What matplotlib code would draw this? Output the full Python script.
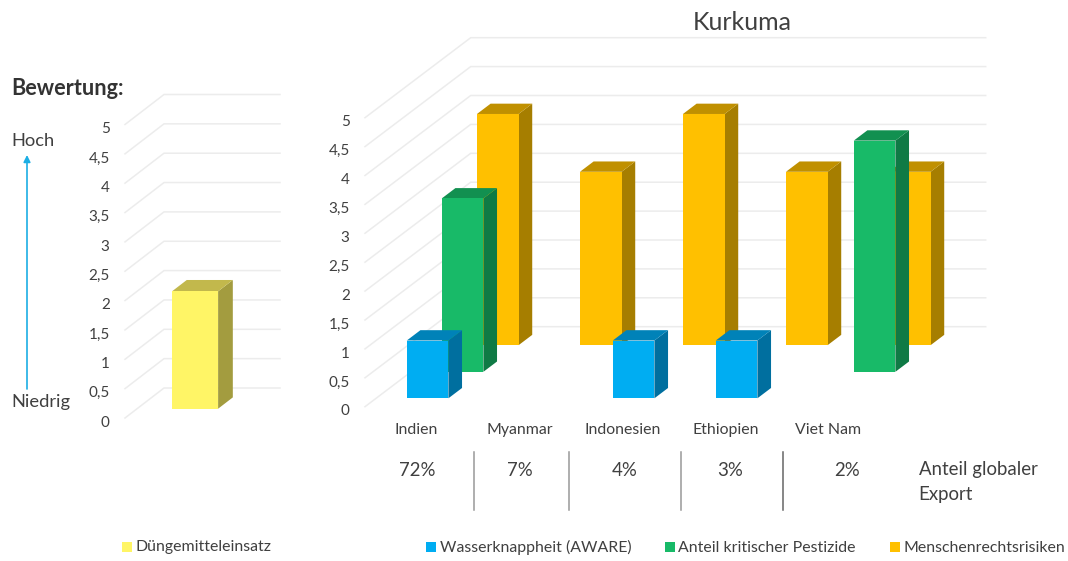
#!/usr/bin/env python3
"""Kurkuma rating chart: fake-3D bars on two value axes plus the export share row."""
import numpy as np
import matplotlib
matplotlib.use("Agg")
import matplotlib.pyplot as plt
from matplotlib.transforms import ScaledTranslation

plt.rcParams["font.family"] = ["Lato", "DejaVu Sans"]

W, H = 1068, 561
TEXT = "#404040"
GRID = "#ececec"

COUNTRIES = ["Indien", "Myanmar", "Indonesien", "Ethiopien", "Viet Nam"]
WATER = [1, None, 1, 1, None]
PESTICIDES = [3, None, None, None, 4]
HUMAN_RIGHTS = [4, 3, 4, 3, 3]
FERTILIZER = [2]
EXPORT_SHARE = ["72%", "7%", "4%", "3%", "2%"]
VALUE_TICKS = [0, 0.5, 1, 1.5, 2, 2.5, 3, 3.5, 4, 4.5, 5]
VALUE_LABELS = ["0", "0,5", "1", "1,5", "2", "2,5", "3", "3,5", "4", "4,5", "5"]

# (front, top, side)
C_BLUE = ("#00adf2", "#0082b8", "#006f9f")
C_GREEN = ("#18ba68", "#129050", "#0f7a45")
C_ORANGE = ("#ffc000", "#c09000", "#a67e00")
C_YELLOW = ("#fff566", "#c2b84c", "#a39c3f")


def chart_axes(fig, left, right, y0, y5, depth_px):
    """Axes spanning the front plane in pixels; x in category slots, y in rating."""
    ax = fig.add_axes([left / W, 1 - y0 / H, (right - left) / W, (y0 - y5) / H])
    ax.set_ylim(0, 5)
    ax.patch.set_visible(False)
    for s in ax.spines.values():
        s.set_visible(False)
    ax.shift = (depth_px[0] / (right - left), depth_px[1] / ((y0 - y5) / 5))
    return ax


def draw_walls(ax, n, fig):
    ax.set_xlim(0, n)
    sx, sy = ax.shift
    sx *= n
    for v in VALUE_TICKS:
        ax.plot([0, sx, n + sx], [v, v + sy, v + sy], color=GRID, lw=1.1, zorder=1,
                clip_on=False, solid_joinstyle="miter")
    ax.set_yticks(VALUE_TICKS, VALUE_LABELS)
    ax.tick_params(axis="y", length=0, pad=11, labelsize=11, labelcolor=TEXT)
    # old-style figures in the original sit lower than the gridline ends
    down = ScaledTranslation(0, -3.2 / 100, fig.dpi_scale_trans)
    for lab in ax.get_yticklabels():
        lab.set_transform(lab.get_transform() + down)


def draw_bars(ax, values, colors, d0, bar_d, width, z):
    """d0/bar_d are fractions of the floor depth, width a fraction of one slot."""
    n = len(values)
    sx, sy = ax.shift
    sx *= n
    dx, dy = sx * bar_d, sy * bar_d
    for i, v in enumerate(values):
        if v is None:
            continue
        x0 = i + 0.5 - width / 2 + sx * d0
        x1 = x0 + width
        b = sy * d0
        ax.fill([x1, x1 + dx, x1 + dx, x1], [b, b + dy, b + v + dy, b + v],
                color=colors[2], lw=0, zorder=z, clip_on=False)
        ax.fill([x0, x0 + dx, x1 + dx, x1], [b + v, b + v + dy, b + v + dy, b + v],
                color=colors[1], lw=0, zorder=z, clip_on=False)
        ax.bar(x0, v, width, bottom=b, align="edge", color=colors[0], lw=0, zorder=z,
               clip_on=False)


def main():
    fig = plt.figure(figsize=(W / 100, H / 100), dpi=100, facecolor="white")

    # left chart
    axl = chart_axes(fig, 125, 241, 418, 124.5, (39, 30))
    draw_walls(axl, 1, fig)
    axl.set_xticks([])
    draw_bars(axl, FERTILIZER, C_YELLOW, 0.31, 0.377, 0.397, 3)

    # right chart
    axr = chart_axes(fig, 365, 880, 406.7, 117.7, (105.7, 80))
    draw_walls(axr, 5, fig)
    axr.set_xticks(np.arange(5) + 0.5, COUNTRIES)
    axr.tick_params(axis="x", length=0, pad=11.8, labelsize=11.4, labelcolor=TEXT)
    # back row first so the front rows paint over it
    draw_bars(axr, HUMAN_RIGHTS, C_ORANGE, 0.769, 0.129, 0.404, 3)
    draw_bars(axr, PESTICIDES, C_GREEN, 0.436, 0.129, 0.404, 4)
    draw_bars(axr, WATER, C_BLUE, 0.105, 0.129, 0.404, 5)

    # overlay in picture pixels for the free text
    ov = fig.add_axes([0, 0, 1, 1])
    ov.set_xlim(0, W)
    ov.set_ylim(H, 0)
    ov.axis("off")
    ov.patch.set_visible(False)

    ov.text(742, 22, "Kurkuma", ha="center", va="center", fontsize=18, color=TEXT)
    ov.text(11, 88.5, "Bewertung:", va="center", fontsize=15.6, fontweight="bold", color="#333333")
    ov.text(11, 141, "Hoch", va="center", fontsize=13.2, color=TEXT)
    ov.text(11, 402, "Niedrig", va="center", fontsize=13.2, color=TEXT)
    ov.annotate("", xy=(27, 155), xytext=(27, 389),
                arrowprops=dict(arrowstyle="-|>", color="#1caee4", lw=1.2, shrinkA=0, shrinkB=0))

    for x, s in zip([417, 520, 625, 730, 847], EXPORT_SHARE):
        ov.text(x, 470, s, ha="center", va="center", fontsize=13.4, color=TEXT)
    for x, c in zip([474, 569, 681, 783], ["#999999", "#999999", "#999999", "#666666"]):
        ov.plot([x, x], [452, 510], color=c, lw=1.1)
    ov.text(919, 469, "Anteil globaler", va="center", fontsize=13.4, color=TEXT)
    ov.text(918.5, 494, "Export", va="center", fontsize=13.4, color=TEXT)

    legend = [(122, "Düngemitteleinsatz", C_YELLOW[0]),
              (426, "Wasserknappheit (AWARE)", C_BLUE[0]),
              (665, "Anteil kritischer Pestizide", C_GREEN[0]),
              (890, "Menschenrechtsrisiken", C_ORANGE[0])]
    for x, s, c in legend:
        ov.fill([x, x + 9.5, x + 9.5, x], [542, 542, 551.5, 551.5], color=c, lw=0)
        ov.text(x + 13.5, 547.5, s, va="center", fontsize=11.4, color=TEXT)

    fig.savefig("out.png", dpi=100)
    plt.close(fig)


if __name__ == "__main__":
    main()
